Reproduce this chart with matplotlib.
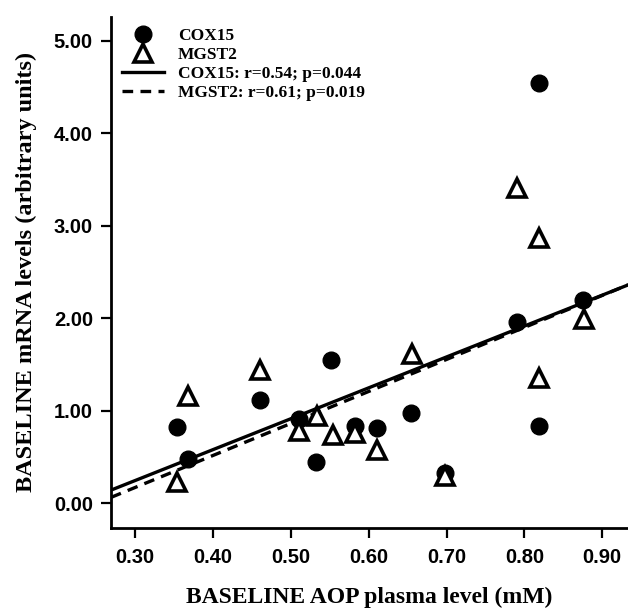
import matplotlib
matplotlib.use("Agg")
import matplotlib.pyplot as plt
from matplotlib.lines import Line2D
import numpy as np

# baseline AOP plasma level (mM) and mRNA levels
cox15_x = [0.354, 0.368, 0.460, 0.510, 0.532, 0.552, 0.582, 0.611, 0.654, 0.698, 0.790, 0.819, 0.819, 0.875]
cox15_y = [0.83, 0.48, 1.12, 0.91, 0.45, 1.55, 0.84, 0.82, 0.98, 0.33, 1.96, 4.54, 0.84, 2.20]

mgst2_x = [0.354, 0.368, 0.460, 0.510, 0.533, 0.554, 0.582, 0.611, 0.655, 0.698, 0.790, 0.819, 0.819, 0.876]
mgst2_y = [0.23, 1.16, 1.44, 0.78, 0.95, 0.74, 0.76, 0.58, 1.62, 0.30, 3.41, 2.87, 1.36, 1.99]

# regression lines as drawn in the figure: (slope, intercept)
cox15_fit = (3.34, -0.754)
mgst2_fit = (3.46, -0.865)

cox15_label = "COX15: r=0.54; p=0.044"
mgst2_label = "MGST2: r=0.61; p=0.019"

x_ticks = [0.30, 0.40, 0.50, 0.60, 0.70, 0.80, 0.90]
y_ticks = [0.00, 1.00, 2.00, 3.00, 4.00, 5.00]

SERIF = ["Liberation Serif", "DejaVu Serif"]
SANS = ["Liberation Sans", "DejaVu Sans"]

fig = plt.figure(figsize=(6.28, 6.09), dpi=100)
ax = fig.add_axes([0.1768, 0.1338, 0.8232, 0.8385])

xlim = (0.269, 0.933)
ax.set_xlim(*xlim)
ax.set_ylim(-0.26, 5.26)

xx = np.array(xlim)
dashes = (0, (3.2, 2.2))
ax.plot(xx, np.polyval(cox15_fit, xx), color="black", lw=2.4, ls="-", zorder=2)
ax.plot(xx, np.polyval(mgst2_fit, xx), color="black", lw=2.4, ls=dashes, zorder=2)

ax.plot(cox15_x, cox15_y, ls="none", marker="o", ms=12, color="black", zorder=3)
ax.plot(mgst2_x, mgst2_y, ls="none", marker="^", ms=12.5, mfc="white", mec="black",
        mew=2.6, zorder=4)

for s in ["top", "right"]:
    ax.spines[s].set_visible(False)
for s in ["left", "bottom"]:
    ax.spines[s].set_linewidth(2.0)

ax.set_xticks(x_ticks)
ax.set_xticklabels([f"{v:.2f}" for v in x_ticks])
ax.set_yticks(y_ticks)
ax.set_yticklabels([f"{v:.2f}" for v in y_ticks])
ax.tick_params(axis="both", length=7, width=1.6, direction="out")
ax.tick_params(axis="x", pad=8)
ax.tick_params(axis="y", pad=6)
for lab in ax.get_xticklabels() + ax.get_yticklabels():
    lab.set_fontfamily(SANS)
    lab.set_fontweight("bold")
    lab.set_fontsize(14.5)

ax.set_xlabel("BASELINE AOP plasma level (mM)", fontfamily=SERIF, fontweight="bold",
              fontsize=17, labelpad=14)
ax.set_ylabel("BASELINE mRNA levels (arbitrary units)", fontfamily=SERIF,
              fontweight="bold", fontsize=17.5, labelpad=12)

handles = [
    Line2D([0], [0], ls="none", marker="o", ms=12, color="black"),
    Line2D([0], [0], ls="none", marker="^", ms=12.5, mfc="white", mec="black", mew=2.6),
    Line2D([0], [0], color="black", lw=2.4),
    Line2D([0], [0], color="black", lw=2.4, ls=dashes),
]
ax.legend(handles, ["COX15", "MGST2", cox15_label, mgst2_label], loc="upper left",
          bbox_to_anchor=(0.0, 1.0), frameon=False, handlelength=2.4,
          handletextpad=0.8, labelspacing=0.16, borderaxespad=0.25,
          prop={"family": SERIF, "weight": "bold", "size": 12.5})

fig.savefig("out.png", dpi=100)
